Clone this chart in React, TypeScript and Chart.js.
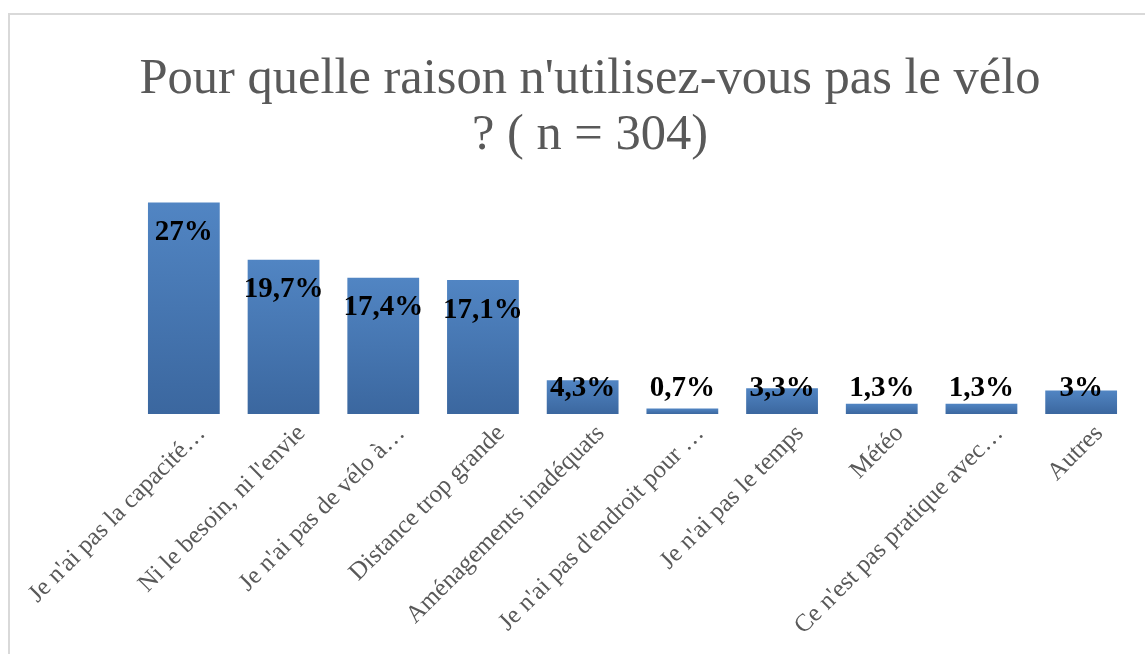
import React, { useEffect, useRef } from "react";
import { Chart, registerables } from "chart.js";

Chart.register(...registerables);

const titleLines = ["Pour quelle raison n'utilisez-vous pas le vélo", "? ( n = 304)"];
const categories = [
  "Je n'ai pas la capacité…",
  "Ni le besoin, ni l'envie",
  "Je n'ai pas de vélo à…",
  "Distance trop grande",
  "Aménagements inadéquats",
  "Je n'ai pas d'endroit pour …",
  "Je n'ai pas le temps",
  "Météo",
  "Ce n'est pas pratique avec…",
  "Autres",
];
const values = [27, 19.7, 17.4, 17.1, 4.3, 0.7, 3.3, 1.3, 1.3, 3];
const valueLabels = ["27%", "19,7%", "17,4%", "17,1%", "4,3%", "0,7%", "3,3%", "1,3%", "1,3%", "3%"];

const valueLabelPlugin = {
  id: "valueLabels",
  afterDatasetsDraw(chart: any) {
    const meta = chart.getDatasetMeta(0);
    const ctx = chart.ctx;
    const base = chart.scales.y.getPixelForValue(0);
    ctx.save();
    ctx.font = "bold 29px 'Liberation Serif'";
    ctx.fillStyle = "#000000";
    ctx.textAlign = "center";
    ctx.textBaseline = "middle";
    meta.data.forEach((bar: any, i: number) => {
      const y = Math.min(bar.y + 30, base - 25);
      ctx.fillText(valueLabels[i], bar.x, y);
    });
    ctx.restore();
  },
};

export default function App() {
  const ref = useRef<HTMLCanvasElement>(null);
  useEffect(() => {
    if (!ref.current) return;
    const chart = new Chart(ref.current, {
      type: "bar",
      data: {
        labels: categories,
        datasets: [
          {
            data: values,
            backgroundColor: (c: any) => {
              const ch = c.chart;
              if (!ch.chartArea || c.dataIndex === undefined) return "#4676b2";
              const y = ch.scales.y;
              const top = y.getPixelForValue(values[c.dataIndex]);
              const bottom = y.getPixelForValue(0);
              if (!isFinite(top) || !isFinite(bottom) || bottom - top < 0.5) return "#4676b2";
              const g = ch.ctx.createLinearGradient(0, top, 0, bottom);
              g.addColorStop(0, "#5185c3");
              g.addColorStop(1, "#3b679f");
              return g;
            },
            borderWidth: 0,
            barPercentage: 0.72,
            categoryPercentage: 1,
          },
        ],
      },
      options: {
        animation: false,
        responsive: false,
        maintainAspectRatio: false,
        layout: { padding: { left: 49, right: 14, top: 0, bottom: 0 } },
        plugins: {
          legend: { display: false },
          tooltip: { enabled: false },
          title: {
            display: true,
            text: titleLines,
            color: "#595959",
            font: { family: "'Liberation Serif'", size: 50.5, weight: "normal", lineHeight: 1.1 },
            padding: { top: 52, bottom: 16 },
          },
        },
        scales: {
          x: {
            grid: { display: false },
            border: { display: false },
            ticks: {
              autoSkip: false,
              maxRotation: 45,
              minRotation: 45,
              padding: -3,
              labelOffset: 18,
              color: "#595959",
              font: { family: "'Liberation Serif'", size: 25 },
            },
            afterFit: (s: any) => {
              s.height = 240;
              s.paddingLeft = 0;
              s.paddingRight = 0;
            },
          },
          y: {
            display: true,
            min: 0,
            max: 30,
            grid: { display: false },
            border: { display: false },
            ticks: { display: false },
            afterFit: (s: any) => {
              s.width = 85;
            },
          },
        },
      },
      plugins: [valueLabelPlugin],
    });
    return () => chart.destroy();
  }, []);
  return (
    <div style={{ position: "absolute", left: 0, top: 0, width: 1145, height: 654, overflow: "hidden", background: "#ffffff" }}>
      <div
        style={{
          position: "absolute",
          left: 8,
          top: 13,
          width: 1200,
          height: 700,
          border: "2px solid #d9d9d9",
          boxSizing: "border-box",
        }}
      />
      <canvas ref={ref} width={1145} height={654} style={{ position: "absolute", left: 0, top: 0 }} />
    </div>
  );
}
